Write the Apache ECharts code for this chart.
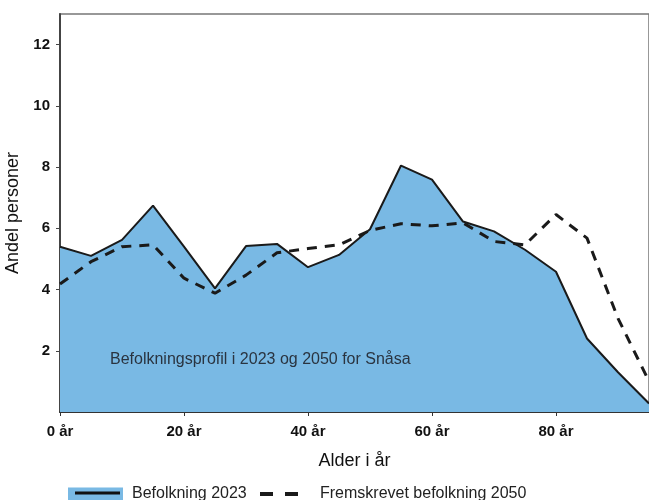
<!DOCTYPE html>
<html>
<head>
<meta charset="utf-8">
<script src="https://cdn.jsdelivr.net/npm/echarts@6/dist/echarts.min.js"></script>
<style>
  html, body { margin: 0; padding: 0; background: #fff; }
  #chart { width: 649px; height: 500px; }
</style>
</head>
<body>
<div id="chart"></div>
<script>
// Alder (år), hvert 5. år
const ages = [0, 5, 10, 15, 20, 25, 30, 35, 40, 45, 50, 55, 60, 65, 70, 75, 80, 85, 90, 95];
// Andel personer (%)
const pop2023 = [5.4, 5.1, 5.62, 6.74, 5.4, 4.04, 5.42, 5.49, 4.73, 5.13, 5.97, 8.05, 7.59, 6.22, 5.9, 5.3, 4.58, 2.4, 1.3, 0.28];
const pop2050 = [4.18, 4.91, 5.4, 5.46, 4.37, 3.88, 4.47, 5.2, 5.34, 5.46, 5.93, 6.15, 6.08, 6.18, 5.57, 5.46, 6.45, 5.68, 3.06, 1.0];

const fontFamily = '"Liberation Sans", Arial, sans-serif';
const fill = '#79b9e4';

const chart = echarts.init(document.getElementById('chart'));

chart.setOption({
  animation: false,
  textStyle: { fontFamily: fontFamily },
  grid: {
    left: 60, top: 14, right: 0, bottom: 88,
    outerBoundsMode: 'none',
    containLabel: false,
    show: true, borderColor: '#777', borderWidth: 1.5
  },
  legend: [
    {
      top: 486,
      left: 68,
      padding: 0,
      itemWidth: 55,
      itemHeight: 13,
      textStyle: { fontSize: 16, color: '#222', padding: [0, 0, 0, 4] },
      data: [{ name: 'Befolkning 2023', icon: 'rect', itemStyle: { color: fill } }]
    },
    {
      top: 486,
      left: 260,
      padding: 0,
      itemWidth: 38,
      itemHeight: 13,
      formatter: '{t|{name}}',
      textStyle: {
        fontSize: 16, color: '#222',
        rich: { t: { fontSize: 16, color: '#222', padding: [0, 0, 0, 17] } }
      },
      data: [{
        name: 'Fremskrevet befolkning 2050',
        icon: 'path://M0,0h13v4h-13zM25,0h13v4h-13z',
        itemStyle: { color: '#1a1a1a' }
      }]
    }
  ],
  xAxis: {
    type: 'value',
    min: 0, max: 95, interval: 20,
    name: 'Alder i år',
    nameLocation: 'middle',
    nameGap: 40,
    nameTextStyle: { fontSize: 18, color: '#111' },
    axisLine: { lineStyle: { color: '#333', width: 2 } },
    axisTick: { show: true, length: 4, lineStyle: { color: '#333' } },
    axisLabel: {
      formatter: '{value} år', fontSize: 15, fontWeight: 'bold', color: '#111',
      margin: 12, showMaxLabel: false
    },
    splitLine: { show: false }
  },
  yAxis: {
    type: 'value',
    min: 0, max: 13, interval: 2,
    name: 'Andel personer',
    nameLocation: 'middle',
    nameGap: 36,
    nameTextStyle: { fontSize: 18, color: '#111' },
    axisLine: { show: true, lineStyle: { color: '#444', width: 2 } },
    axisTick: { show: true, length: 4, lineStyle: { color: '#444' } },
    axisLabel: {
      fontSize: 15, fontWeight: 'bold', color: '#111', margin: 10,
      showMinLabel: false, showMaxLabel: false
    },
    splitLine: { show: false }
  },
  series: [
    {
      name: 'Befolkning 2023',
      type: 'line',
      data: ages.map((a, i) => [a, pop2023[i]]),
      symbol: 'none',
      lineStyle: { color: '#1a1a1a', width: 2 },
      itemStyle: { color: '#1a1a1a' },
      areaStyle: { color: fill, opacity: 1 },
      z: 2
    },
    {
      name: 'Fremskrevet befolkning 2050',
      type: 'line',
      data: ages.map((a, i) => [a, pop2050[i]]),
      symbol: 'none',
      lineStyle: { color: '#1a1a1a', width: 3, type: [10, 8] },
      itemStyle: { color: '#1a1a1a' },
      z: 3
    }
  ],
  graphic: [
    {
      type: 'text',
      left: 110,
      top: 352,
      style: {
        text: 'Befolkningsprofil i 2023 og 2050 for Snåsa',
        fontSize: 16,
        fontFamily: fontFamily,
        fill: '#2a3440'
      },
      z: 10
    },
    {
      type: 'line',
      shape: { x1: 75, y1: 493, x2: 120, y2: 493 },
      style: { stroke: '#111', lineWidth: 3 },
      z: 10
    }
  ]
});
</script>
</body>
</html>
